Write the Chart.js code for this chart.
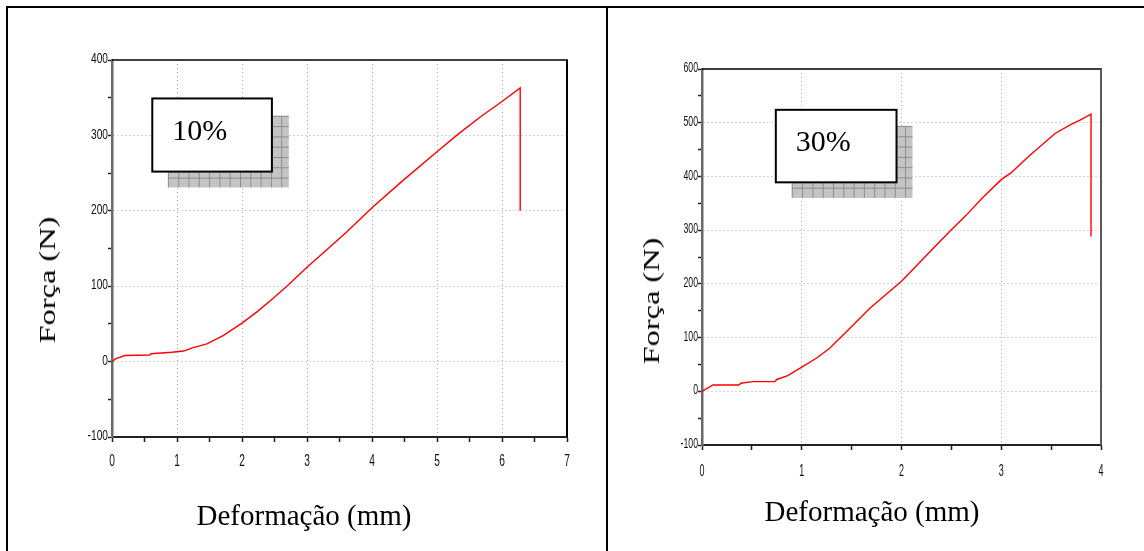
<!DOCTYPE html>
<html>
<head>
<meta charset="utf-8">
<script src="https://cdn.jsdelivr.net/npm/chart.js@4.4.0/dist/chart.umd.min.js"></script>
<style>
  html, body { margin: 0; padding: 0; background: #fff; }
  body { width: 1144px; height: 551px; position: relative; overflow: hidden; }
  .rule { position: absolute; background: #000; }
  canvas { position: absolute; top: 0; }
  .title {
    position: absolute;
    font-family: 'Liberation Serif', 'Times New Roman', serif;
    color: #000;
    white-space: nowrap;
    line-height: 1;
  }
</style>
</head>
<body>
<div class="rule" style="left:6px;top:6px;width:1138px;height:2px"></div>
<div class="rule" style="left:6px;top:6px;width:2px;height:545px"></div>
<div class="rule" style="left:606px;top:6px;width:2px;height:545px"></div>

<canvas id="chart10" width="606" height="551" style="left:0"></canvas>
<canvas id="chart30" width="534" height="551" style="left:610px"></canvas>

<div class="title" style="left:47px;top:280px;font-size:24px;transform:translate(-50%,-50%) rotate(-90deg) scaleX(1.35)">Força (N)</div>
<div class="title" style="left:651px;top:301px;font-size:24px;transform:translate(-50%,-50%) rotate(-90deg) scaleX(1.35)">Força (N)</div>
<div class="title" style="left:304px;top:515px;font-size:29px;transform:translate(-50%,-50%)">Deformação (mm)</div>
<div class="title" style="left:872px;top:511px;font-size:29px;transform:translate(-50%,-50%)">Deformação (mm)</div>

<script>
// 10% sample: deformation (mm) and force (N)
const defo10  = [0, 0.05, 0.2, 0.58, 0.6, 0.92, 1.1, 1.25, 1.46, 1.71, 2.0, 2.23, 2.48, 2.69, 3.0, 3.3, 3.61, 4.0, 4.46, 5.05, 5.33, 5.66, 6.0, 6.28, 6.28];
const forca10 = [0, 3.5, 8, 8.8, 10.5, 12.4, 14, 18.6, 23.5, 34.5, 51, 66, 84, 100, 125, 148, 172, 204, 239, 282, 302, 324, 345, 363, 200];

// 30% sample
const defo30  = [0, 0.11, 0.37, 0.39, 0.51, 0.73, 0.75, 0.86, 1.0, 1.15, 1.28, 1.48, 1.68, 1.85, 2.0, 2.08, 2.28, 2.48, 2.65, 2.81, 3.0, 3.1, 3.29, 3.54, 3.69, 3.79, 3.9, 3.9];
const forca30 = [0, 11.8, 11.8, 15, 18, 18, 22, 29, 45, 62, 80, 117, 154, 181, 205, 220, 259, 297, 328, 360, 394, 407, 440, 480, 496, 505, 516, 288];

const label10 = '10%';
const label30 = '30%';

// label box with hatched shadow, placed in data units
const boxPlugin = {
  id: 'labelBox',
  afterDraw(chart, args, o) {
    const ctx = chart.ctx;
    const xs = chart.scales.x, ys = chart.scales.y;
    const sx0 = xs.getPixelForValue(o.shadow[0]), sx1 = xs.getPixelForValue(o.shadow[1]);
    const sy0 = ys.getPixelForValue(o.shadow[3]), sy1 = ys.getPixelForValue(o.shadow[2]);
    ctx.save();
    ctx.fillStyle = '#c4c4c4';
    ctx.fillRect(sx0, sy0, sx1 - sx0, sy1 - sy0);
    ctx.strokeStyle = '#8e8e8e';
    ctx.lineWidth = 1;
    ctx.beginPath();
    for (let x = sx0 + 0.5; x <= sx1; x += 10.3) { ctx.moveTo(x, sy0); ctx.lineTo(x, sy1); }
    for (let y = sy0 + 0.5; y <= sy1; y += 10.3) { ctx.moveTo(sx0, y); ctx.lineTo(sx1, y); }
    ctx.stroke();

    const bx0 = xs.getPixelForValue(o.box[0]), bx1 = xs.getPixelForValue(o.box[1]);
    const by0 = ys.getPixelForValue(o.box[3]), by1 = ys.getPixelForValue(o.box[2]);
    ctx.fillStyle = '#fff';
    ctx.fillRect(bx0, by0, bx1 - bx0, by1 - by0);
    ctx.strokeStyle = '#000';
    ctx.lineWidth = 2;
    ctx.strokeRect(bx0, by0, bx1 - bx0, by1 - by0);

    ctx.fillStyle = '#000';
    ctx.font = "30px 'Liberation Serif', 'Times New Roman', serif";
    ctx.textBaseline = 'middle';
    ctx.fillText(o.text, bx0 + 20, (by0 + by1) / 2 - 3);
    ctx.restore();
  }
};

// top and right edges of the plot frame
const framePlugin = {
  id: 'plotFrame',
  afterDraw(chart, args, o) {
    const { ctx, chartArea: a } = chart;
    ctx.save();
    ctx.strokeStyle = '#000';
    ctx.lineWidth = 1.5;
    ctx.beginPath(); ctx.moveTo(a.left, a.top); ctx.lineTo(a.right + 1, a.top); ctx.stroke();
    ctx.strokeStyle = o.rightColor;
    ctx.lineWidth = 2;
    ctx.beginPath(); ctx.moveTo(a.right, a.top); ctx.lineTo(a.right, a.bottom); ctx.stroke();
    ctx.restore();
  }
};

// condensed tick labels, placed from the scales' own ticks
const tickTextPlugin = {
  id: 'tickText',
  afterDraw(chart, args, o) {
    const ctx = chart.ctx;
    const a = chart.chartArea;
    const xs = chart.scales.x, ys = chart.scales.y;
    ctx.save();
    ctx.fillStyle = '#111';
    ctx.textBaseline = 'middle';
    ctx.font = o.xSize + "px 'Liberation Sans', Arial, sans-serif";
    ctx.textAlign = 'center';
    xs.ticks.forEach(t => {
      if (t.label === '') return;
      ctx.save();
      ctx.translate(xs.getPixelForValue(t.value), a.bottom + o.xOffset);
      ctx.scale(o.xStretch, 1);
      ctx.fillText(String(t.label), 0, 0);
      ctx.restore();
    });
    ctx.font = o.ySize + "px 'Liberation Sans', Arial, sans-serif";
    ctx.textAlign = 'right';
    ys.ticks.forEach(t => {
      if (t.label === '') return;
      ctx.save();
      ctx.translate(a.left - o.yGap, ys.getPixelForValue(t.value) - 1);
      ctx.scale(o.yStretch, 1);
      ctx.fillText(String(t.label), 0, 0);
      ctx.restore();
    });
    ctx.restore();
  }
};

function makeChart(id, xs, ys, xMax, yMin, yMax, area, box, rightColor, tickText) {
  const pts = xs.map((x, i) => ({ x: x, y: ys[i] }));
  return new Chart(document.getElementById(id), {
    type: 'line',
    data: {
      datasets: [{
        data: pts,
        borderColor: '#ff0000',
        borderWidth: 1.4,
        pointRadius: 0,
        tension: 0,
        fill: false
      }]
    },
    options: {
      responsive: false,
      animation: false,
      layout: { padding: { left: 0, top: area.top, right: area.right, bottom: 0 } },
      plugins: {
        legend: { display: false },
        tooltip: { enabled: false },
        labelBox: box,
        plotFrame: { rightColor: rightColor },
        tickText: tickText
      },
      scales: {
        x: {
          type: 'linear',
          min: 0, max: xMax,
          afterFit: s => { s.height = area.xh; },
          ticks: {
            display: false,
            stepSize: 0.5, autoSkip: false, maxRotation: 0,
            callback: v => Number.isInteger(v) ? String(v) : ''
          },
          grid: {
            color: c => (c.tick && Number.isInteger(c.tick.value) && c.tick.value > 0 && c.tick.value < xMax) ? '#b3ae9f' : 'rgba(0,0,0,0)',
            lineWidth: 1,
            tickColor: '#222',
            tickLength: 5,
            tickWidth: 1.5
          },
          border: { color: '#222', width: 2, dash: [1, 3] }
        },
        y: {
          min: yMin, max: yMax,
          afterFit: s => { s.width = area.yw; },
          ticks: {
            display: false,
            stepSize: 50, autoSkip: false,
            callback: v => v % 100 === 0 ? String(v) : ''
          },
          grid: {
            color: c => (c.tick && c.tick.value % 100 === 0 && c.tick.value > yMin && c.tick.value < yMax) ? '#b3ae9f' : 'rgba(0,0,0,0)',
            lineWidth: 1,
            tickColor: '#222',
            tickLength: 4,
            tickWidth: 1.5
          },
          border: { color: '#6a6a6a', width: 2.5, dash: [1, 3] }
        }
      }
    },
    plugins: [boxPlugin, framePlugin, tickTextPlugin]
  });
}

makeChart('chart10', defo10, forca10, 7, -100, 400,
  { top: 60, right: 39, yw: 112, xh: 114 },
  { text: label10, box: [0.62, 2.46, 252, 349], shadow: [0.86, 2.72, 231, 326] },
  '#000',
  { xSize: 17, xStretch: 0.6, xOffset: 24, ySize: 15, yStretch: 0.68, yGap: 4 });

makeChart('chart30', defo30, forca30, 4, -100, 600,
  { top: 69, right: 43, yw: 92, xh: 106 },
  { text: label30, box: [0.74, 1.95, 389, 524], shadow: [0.9, 2.11, 360, 494] },
  '#5a5a5a',
  { xSize: 16, xStretch: 0.56, xOffset: 27, ySize: 15, yStretch: 0.58, yGap: 4 });
</script>
</body>
</html>
